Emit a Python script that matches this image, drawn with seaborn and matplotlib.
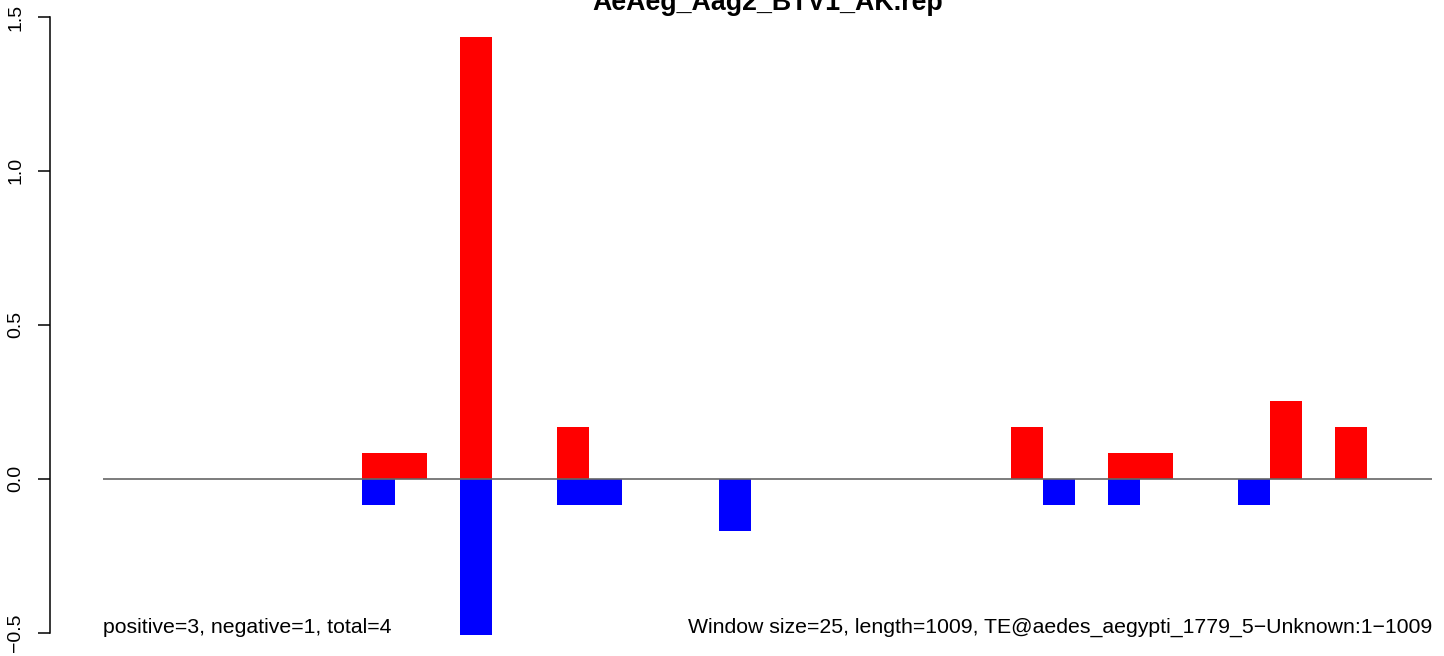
import matplotlib
matplotlib.use("Agg")
import matplotlib.pyplot as plt
import seaborn as sns
import numpy as np

# ---- data ----
n_windows = 41
window_idx = list(range(n_windows))
pos_windows = [8, 9, 11, 14, 28, 31, 32, 36, 38]
pos_values = [0.0845, 0.0845, 1.4365, 0.169, 0.169, 0.0845, 0.0845, 0.2535, 0.169]
neg_windows = [8, 11, 14, 15, 19, 29, 31, 35]
neg_values = [-0.0845, -0.507, -0.0845, -0.0845, -0.169, -0.0845, -0.0845, -0.0845]
title = "AeAeg_Aag2_BTV1_AK.rep"
left_note = "positive=3, negative=1, total=4"
right_note = "Window size=25, length=1009, TE@aedes_aegypti_1779_5\u2212Unknown:1\u22121009"
yticks = [-0.5, 0.0, 0.5, 1.0, 1.5]

pos_full = np.zeros(n_windows)
neg_full = np.zeros(n_windows)
for w, v in zip(pos_windows, pos_values):
    pos_full[w] = v
for w, v in zip(neg_windows, neg_values):
    neg_full[w] = v

sns.set_style("white")
plt.rcParams['font.family'] = ['Liberation Sans', 'DejaVu Sans']
plt.rcParams['text.color'] = 'black'
plt.rcParams['ytick.color'] = 'black'
plt.rcParams['axes.labelcolor'] = 'black'

W, H = 1444, 656
fig = plt.figure(figsize=(W / 100, H / 100), dpi=100)
ax_left, ax_right = 50, 1444
y_top_px, y_bot_px = 17, 632.6
ax = fig.add_axes([ax_left / W, (H - y_bot_px) / H, (ax_right - ax_left) / W, (y_bot_px - y_top_px) / H])

sns.barplot(x=window_idx, y=pos_full, order=window_idx, color="#FF0000", width=1.0,
            saturation=1, ax=ax, linewidth=0, errorbar=None)
sns.barplot(x=window_idx, y=neg_full, order=window_idx, color="#0000FF", width=1.0,
            saturation=1, ax=ax, linewidth=0, errorbar=None)
for p in ax.patches:
    p.set_clip_on(False)

ppu = (1432 - 103) / n_windows
ax.set_xlim(-0.5 - (103 - ax_left) / ppu, -0.5 + (ax_right - 103) / ppu)
ax.set_ylim(-0.5, 1.5)

ax.hlines(0, window_idx[0] - 0.5, window_idx[-1] + 0.5, color="#666666", lw=1.2, zorder=5)

for s in ["top", "right", "bottom"]:
    ax.spines[s].set_visible(False)
ax.spines["left"].set_bounds(-0.5, 1.5)
ax.spines["left"].set_linewidth(1.1)
ax.spines["left"].set_color("black")
ax.set_xticks([])
ax.set_yticks(yticks)
ax.set_yticklabels([f"{t:.1f}".replace("-", "\u2212") for t in yticks], rotation=90, va="center",
                   fontsize=14, color="black")
ax.tick_params(axis="y", length=8.6, width=1.1, pad=10, color="black", labelcolor="black", left=True)
ax.set_xlabel("")
ax.set_ylabel("")

fig.text(768 / W, (H - 10) / H, title, ha="center", va="baseline", fontsize=19.3, fontweight="bold", color="black")
fig.text(103 / W, (H - 633) / H, left_note, ha="left", va="baseline", fontsize=15.3, color="black")
fig.text(1432 / W, (H - 633) / H, right_note, ha="right", va="baseline", fontsize=15.3, color="black")

fig.savefig("out.png", dpi=100)
